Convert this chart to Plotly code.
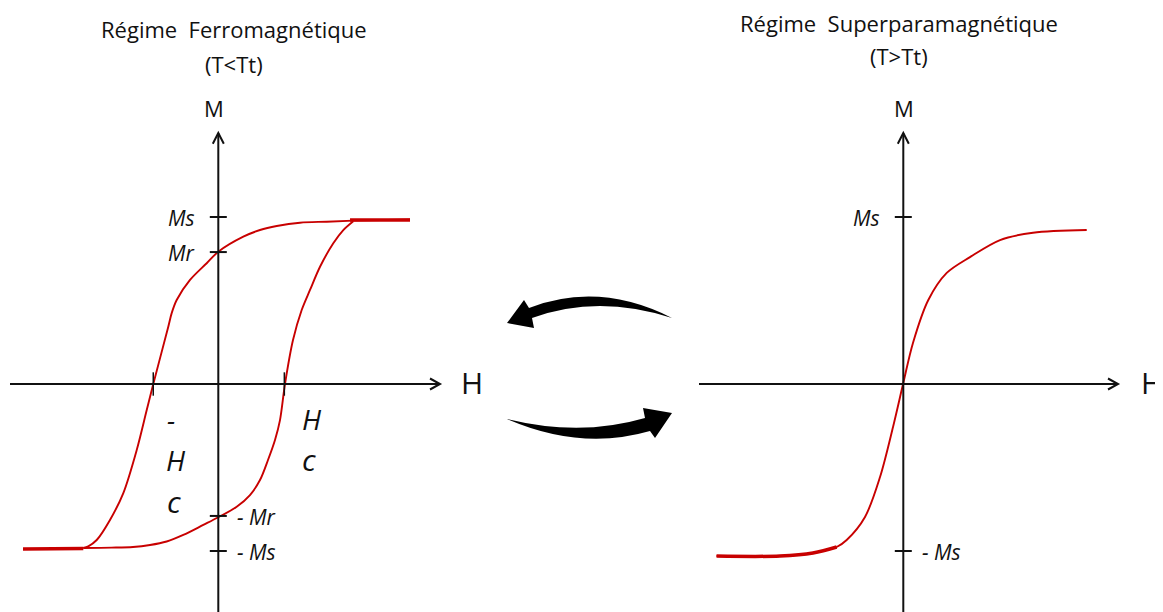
import plotly.graph_objects as go

# niveaux caracteristiques (M en unites de Ms, H en unites de Hc)
hc_level = 0.99
tick_labels_left = ["Ms", "Mr", "- Mr", "- Ms"]
tick_values_left = [1.0, 0.79, -0.79, -1.0]
tick_labels_right = ["Ms", "- Ms"]
tick_values_right = [1.0, -1.0]

# regime ferromagnetique : branche descendante
up_h = [2.874, 2.024, 1.625, 1.225, 0.876, 0.625, 0.375, 0.0, -0.174, -0.424, -0.624,
        -0.70, -0.75, -0.975, -1.073, -1.223, -1.424, -1.624, -1.823, -1.95, -2.024]
up_m = [0.985, 0.978, 0.972, 0.966, 0.946, 0.922, 0.882, 0.792, 0.723, 0.623, 0.503,
        0.423, 0.343, 0.0, -0.156, -0.395, -0.653, -0.814, -0.934, -0.972, -0.982]
# regime ferromagnetique : branche montante
low_h = [-2.024, -1.6, -1.279, -1.024, -0.774, -0.525, -0.225, 0.0, 0.276, 0.475, 0.625, 0.745,
         0.85, 0.925, 1.0, 1.12, 1.25, 1.375, 1.525, 1.724, 1.874, 2.024]
low_m = [-0.982, -0.980, -0.976, -0.964, -0.943, -0.904, -0.844, -0.798, -0.735, -0.665, -0.575, -0.455,
         -0.335, -0.216, 0.0, 0.263, 0.443, 0.563, 0.702, 0.843, 0.922, 0.975]
# saturation (trait epais)
sat_top_h = [1.975, 2.874]
sat_top_m = [0.982, 0.982]
sat_bot_h = [-2.928, -2.024]
sat_bot_m = [-0.988, -0.985]

# regime superparamagnetique
sp_h = [-2.80, -1.85, -1.354, -0.999, -0.849, -0.574, -0.349, -0.154, 0.0, 0.145,
        0.375, 0.651, 1.0, 1.45, 1.945, 2.75]
sp_m = [-1.03, -1.03, -1.012, -0.976, -0.934, -0.796, -0.557, -0.257, 0.006, 0.246,
        0.503, 0.665, 0.76, 0.862, 0.906, 0.922]
sp_sat_h = [-2.80, -1.85, -1.354, -0.999]
sp_sat_m = [-1.03, -1.03, -1.012, -0.976]

# la page a une marge de 8 px : la figure couvre les pixels 8..1163 x 8..612
OFF = 8
W, H = 1163 - OFF, 612 - OFF
red = "#c80000"
ink = "#111111"
font = "Open Sans"

fig = go.Figure()
thin = dict(color=red, width=1.9, shape="spline", smoothing=0.9)
fig.add_trace(go.Scatter(x=up_h, y=up_m, mode="lines", line=thin, xaxis="x", yaxis="y"))
fig.add_trace(go.Scatter(x=low_h, y=low_m, mode="lines", line=thin, xaxis="x", yaxis="y"))
fig.add_trace(go.Scatter(x=sat_top_h, y=sat_top_m, mode="lines", line=dict(color=red, width=3.5), xaxis="x", yaxis="y"))
fig.add_trace(go.Scatter(x=sat_bot_h, y=sat_bot_m, mode="lines", line=dict(color=red, width=3.5), xaxis="x", yaxis="y"))
fig.add_trace(go.Scatter(x=sp_h, y=sp_m, mode="lines", line=thin, xaxis="x2", yaxis="y2"))
fig.add_trace(go.Scatter(x=sp_sat_h, y=sp_sat_m, mode="lines", line=dict(color=red, width=3.5, shape="spline"), xaxis="x2", yaxis="y2"))
fig.add_trace(go.Scatter(x=[], y=[], xaxis="x3", yaxis="y3"))

# echelle : 66.7 px par unite de H, 167 px par unite de M
sx, sy = 66.7, 167.0
shapes = []
annotations = []


def draw_axes(xr, yr, x0, x1, y1):
    blk = dict(color=ink, width=2)
    shapes.append(dict(type="line", xref=xr, yref=yr, x0=x0, x1=x1, y0=0, y1=0, line=blk))
    shapes.append(dict(type="line", xref=xr, yref=yr, x0=0, x1=0, y0=-1.4, y1=y1, line=blk))
    ax, ay = 10 / sx, 5.5 / sy
    shapes.append(dict(type="path", xref=xr, yref=yr, line=blk,
                       path=f"M {x1-ax},{ay} L {x1},0 L {x1-ax},{-ay}"))
    bx, by = 5.5 / sx, 10.7 / sy
    shapes.append(dict(type="path", xref=xr, yref=yr, line=blk,
                       path=f"M {-bx},{y1-by} L 0,{y1} L {bx},{y1-by}"))


def ytick(xr, yr, v):
    d = 8.5 / sx
    shapes.append(dict(type="line", xref=xr, yref=yr, x0=-d, x1=d, y0=v, y1=v,
                       line=dict(color=ink, width=2)))


draw_axes("x", "y", -3.123, 3.324, 1.503)
draw_axes("x2", "y2", -3.063, 3.219, 1.503)
for v in tick_values_left:
    ytick("x", "y", v)
for v in tick_values_right:
    ytick("x2", "y2", v)
for v in [-hc_level * 0.985, hc_level]:
    shapes.append(dict(type="line", xref="x", yref="y", x0=v, x1=v, y0=-0.07, y1=0.07,
                       line=dict(color=ink, width=1.5)))

lab_font = dict(family=font, size=21, color=ink)


def tick_label(xr, yr, t, v, lshift, rshift):
    if v > 0:
        annotations.append(dict(xref=xr, yref=yr, x=0, y=v, text=f"<i>{t}</i>", showarrow=False,
                                xanchor="right", xshift=lshift, yshift=-1, font=lab_font))
    else:
        annotations.append(dict(xref=xr, yref=yr, x=0, y=v, text=f"<i>{t}</i>", showarrow=False,
                                xanchor="left", xshift=rshift, yshift=-1, font=lab_font))


for t, v in zip(tick_labels_left, tick_values_left):
    tick_label("x", "y", t, v, -21, 17)
for t, v in zip(tick_labels_right, tick_values_right):
    tick_label("x2", "y2", t, v, -21, 17)


# textes en coordonnees pixel (de la capture)
def px_text(x, y, text, size, italic=False):
    annotations.append(dict(xref="x3", yref="y3", x=x, y=y, text=f"<i>{text}</i>" if italic else text,
                            showarrow=False, font=dict(family=font, size=size, color=ink)))


px_text(234, 29, "Régime  Ferromagnétique", 22)
px_text(234, 64, "(T&lt;Tt)", 22)
px_text(899, 23, "Régime  Superparamagnétique", 22)
px_text(899, 56, "(T&gt;Tt)", 22)
px_text(214, 108, "M", 22)
px_text(904, 108, "M", 22)
px_text(472, 382, "H", 30)
px_text(1152, 382, "H", 30)
px_text(171, 420, "-", 26, True)
px_text(176, 460, "H", 28, True)
px_text(174, 501, "c", 30, True)
px_text(312, 419, "H", 28, True)
px_text(309, 459, "c", 30, True)

# fleches courbes
shapes.append(dict(type="path", xref="x3", yref="y3", fillcolor="black", line=dict(width=0),
                   path="M 529,308 Q 599,281 672,318 Q 598,294 532,318 L 534,328 L 507,323 L 524,300 Z"))
shapes.append(dict(type="path", xref="x3", yref="y3", fillcolor="black", line=dict(width=0),
                   path="M 507,419 Q 580,437 645,418 L 643,408 L 672,413 L 655,438 L 650,431 Q 581,451 507,419 Z"))

hid = dict(visible=False, showgrid=False, zeroline=False, fixedrange=True)
yr_main = [(384 - 612) / sy, (384 - OFF) / sy]
fig.update_layout(
    width=W, height=H, margin=dict(l=0, r=0, t=0, b=0),
    paper_bgcolor="white", plot_bgcolor="rgba(0,0,0,0)", showlegend=False,
    xaxis=dict(hid, domain=[0, (480 - OFF) / W], range=[(OFF - 218.3) / sx, (480 - 218.3) / sx], anchor="y"),
    yaxis=dict(hid, domain=[0, 1], range=yr_main, anchor="x"),
    xaxis2=dict(hid, domain=[(680 - OFF) / W, 1], range=[(680 - 903.3) / sx, (1163 - 903.3) / sx], anchor="y2"),
    yaxis2=dict(hid, domain=[0, 1], range=yr_main, anchor="x2"),
    xaxis3=dict(hid, domain=[0, 1], range=[OFF, 1163], anchor="y3"),
    yaxis3=dict(hid, domain=[0, 1], range=[612, OFF], anchor="x3"),
    shapes=shapes, annotations=annotations,
)
fig.write_html("out.html")
